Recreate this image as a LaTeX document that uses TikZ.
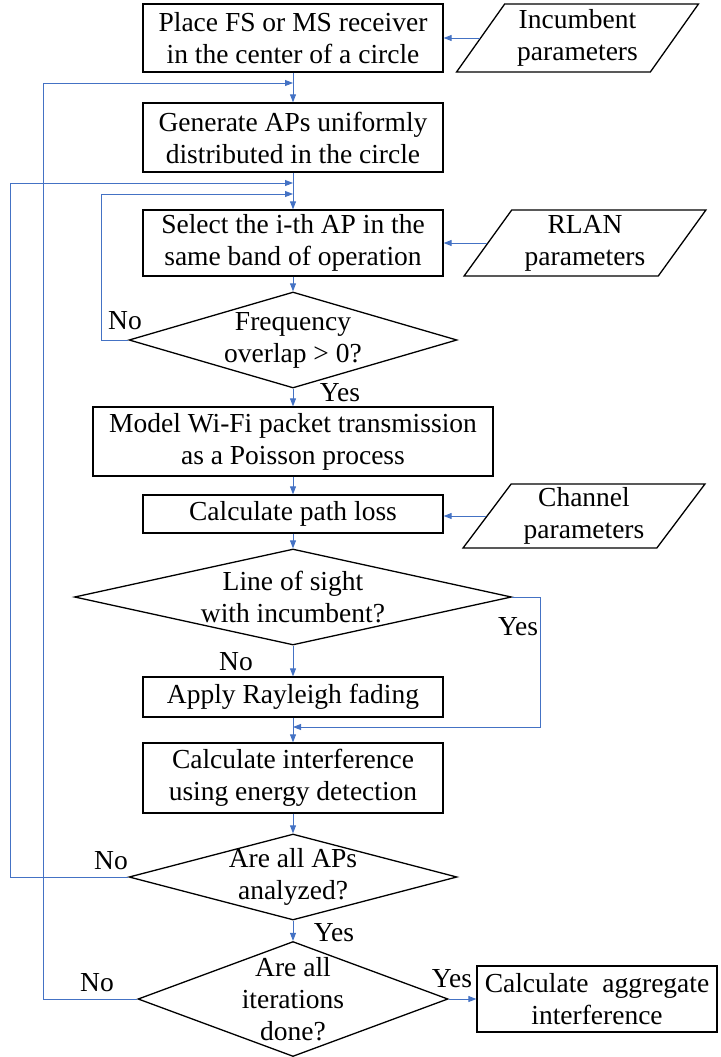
\documentclass[tikz,border=0pt]{standalone}
\usepackage{fontspec}
\setmainfont{Liberation Serif}
\newfontfamily\flowfont{Liberation Serif}
\usetikzlibrary{shapes.geometric,arrows.meta,calc}
\definecolor{flowblue}{RGB}{68,114,196}
\begin{document}
\begin{tikzpicture}[x=1pt,y=-1pt,
  every node/.style={font=\flowfont\fontsize{27.5}{32}\selectfont},
  procbox/.style={draw=black, line width=1.3pt, rectangle, minimum width=300pt, align=center, inner sep=0pt},
  iobox/.style={draw=black, line width=1.3pt, trapezium, trapezium left angle=55, trapezium right angle=125, trapezium stretches=true, minimum width=242pt, align=center, inner sep=0pt},
  decbox/.style={draw=black, line width=1.3pt, diamond, inner sep=0pt},
  dectext/.style={align=center, inner sep=0pt},
  lbl/.style={inner sep=0pt},
  arr/.style={draw=flowblue, line width=0.9pt, -{Triangle[length=8pt,width=6pt]}},
  ]
\useasboundingbox (0,0) rectangle (720,1057);

% process boxes
\node[procbox, minimum height=68pt] (b1) at (293,38) {Place FS or MS receiver\\in the center of a circle};
\node[procbox, minimum height=69pt] (b2) at (293,137.5) {Generate APs uniformly\\distributed in the circle};
\node[procbox, minimum height=66pt] (b3) at (293,243) {Select the i-th AP in the\\same band of operation};
\node[decbox, minimum width=328pt, minimum height=96pt] (d1) at (293,340) {};
\node[dectext] (d1t) at (d1) {Frequency\\overlap > 0?};
\node[procbox, minimum width=400pt, minimum height=69pt] (b4) at (293,441.5) {Model Wi-Fi packet transmission\\as a Poisson process};
\node[procbox, minimum height=38pt] (b5) at (293,514) {Calculate path loss};
\node[decbox, minimum width=437pt, minimum height=96pt] (d2) at (293,597) {};
\node[dectext] (d2t) at (d2) {Line of sight\\with incumbent?};
\node[procbox, minimum height=40pt] (b6) at (293,697) {Apply Rayleigh fading};
\node[procbox, minimum height=70pt] (b7) at (293,778) {Calculate interference\\using energy detection};
\node[decbox, minimum width=328pt, minimum height=86pt] (d3) at (293,877) {};
\node[dectext] (d3t) at (d3) {Are all APs\\analyzed?};
\node[decbox, minimum width=310pt, minimum height=115pt] (d4) at (293,999) {};
\node[dectext] (d4t) at (d4) {Are all\\iterations\\done?};
\node[procbox, minimum width=240pt, minimum height=66pt] (b8) at (597,999) {Calculate\ \ aggregate\\interference};

% input parallelograms
\node[iobox, minimum height=68pt] (p1) at (577.5,38) {Incumbent\\parameters};
\node[iobox, minimum height=66pt] (p2) at (585,243) {RLAN\\parameters};
\node[iobox, minimum height=64pt] (p3) at (584,516) {Channel\\parameters};

% junction points on the main line
\coordinate (j1) at (293,83);
\coordinate (j2) at (293,183);
\coordinate (j3) at (293,194);
\coordinate (j4) at (293,727);

% inputs
\draw[arr] (p1.left side) -- (p1.left side -| b1.east);
\draw[arr] (p2.left side) -- (p2.left side -| b3.east);
\draw[arr] (p3.left side) -- (p3.left side -| b5.east);

% main flow
\draw[arr] (b1.south) -- (b2.north);
\draw[arr] (b2.south) -- (b3.north);
\draw[arr] (b3.south) -- (d1.north);
\draw[arr] (d1.south) -- (b4.north);
\draw[arr] (b4.south) -- (b5.north);
\draw[arr] (b5.south) -- (d2.north);
\draw[arr] (d2.south) -- (b6.north);
\draw[arr] (b6.south) -- (b7.north);
\draw[arr] (b7.south) -- (d3.north);
\draw[arr] (d3.south) -- (d4.north);
\draw[arr] (d4.east) -- (b8.west);

% loops
\draw[arr] (d1.west) -- ++(-27,0) |- (j3);
\draw[arr] (d3.west) -- ++(-118,0) |- (j2);
\draw[arr] (d4.west) -- ++(-94,0) |- (j1);
\draw[arr] (d2.east) -- ++(28,0) |- (j4);

% labels
\node[lbl] (n1) at (125,321) {No};
\node[lbl] (y1) at (340,393) {Yes};
\node[lbl] (y2) at (518,627) {Yes};
\node[lbl] (n2) at (236,662) {No};
\node[lbl] (n3) at (111,861) {No};
\node[lbl] (y3) at (334,933) {Yes};
\node[lbl] (n4) at (97,983) {No};
\node[lbl] (y4) at (452,979) {Yes};
\end{tikzpicture}
\end{document}
